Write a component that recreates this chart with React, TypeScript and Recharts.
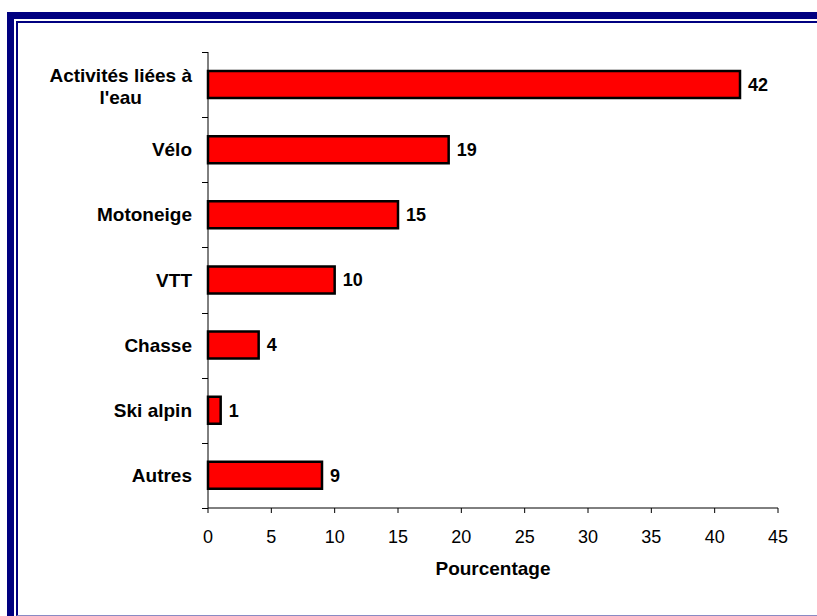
import { BarChart, Bar, XAxis, YAxis, LabelList, Label } from 'recharts'

const categories = ["Activités liées à l'eau", 'Vélo', 'Motoneige', 'VTT', 'Chasse', 'Ski alpin', 'Autres']
const percentages = [42, 19, 15, 10, 4, 1, 9]
const xTicks = [0, 5, 10, 15, 20, 25, 30, 35, 40, 45]

const data = categories.map((activite, i) => ({ activite, pct: percentages[i] }))

const W = 817
const H = 616
const MARGIN = { top: 52, right: 39, bottom: 38, left: 0 }
const Y_AXIS_W = 208
const X_AXIS_H = 70
const BAND = (H - MARGIN.top - MARGIN.bottom - X_AXIS_H) / categories.length
const TICK_SIZE = 6
const TICK_MARGIN = 10
const FONT = "'Liberation Sans', Arial, sans-serif"
const CAT_FONT_SIZE = 19
const LABEL_MAX_W = 150
const NAVY = '#000080'

let ctx: CanvasRenderingContext2D | null = null
function textWidth(s: string) {
  if (!ctx) ctx = document.createElement('canvas').getContext('2d')
  if (!ctx) return s.length * 10
  ctx.font = `bold ${CAT_FONT_SIZE}px ${FONT}`
  return ctx.measureText(s).width
}

// greedy word wrap for long category names
function wrap(label: string) {
  const lines: string[] = []
  let cur = ''
  for (const w of label.split(' ')) {
    const next = cur ? cur + ' ' + w : w
    if (cur && textWidth(next) > LABEL_MAX_W) {
      lines.push(cur)
      cur = w
    } else cur = next
  }
  if (cur) lines.push(cur)
  return lines
}

// category label + tick marks between the bands
function CategoryTick(props: any) {
  const { x, y, payload } = props
  const axisX = x + TICK_SIZE + TICK_MARGIN
  const lines = wrap(String(payload.value))
  const multi = lines.length > 1
  const widest = Math.max(...lines.map(textWidth))
  const tx = multi ? x - widest / 2 : x
  const lh = 22
  const y0 = y - ((lines.length - 1) * lh) / 2 + (multi ? 1.5 : 0)
  const isLast = payload.value === categories[categories.length - 1]
  const top = Math.round(y - BAND / 2) + 0.5
  const bottom = Math.round(y + BAND / 2) + 0.5
  return (
    <g>
      <line x1={axisX - TICK_SIZE} x2={axisX} y1={top} y2={top} stroke="#000" />
      {isLast && <line x1={axisX - TICK_SIZE} x2={axisX} y1={bottom} y2={bottom} stroke="#000" />}
      {lines.map((l, i) => (
        <text
          key={i}
          x={tx}
          y={y0 + i * lh}
          textAnchor={multi ? 'middle' : 'end'}
          dominantBaseline="central"
          fontSize={CAT_FONT_SIZE}
          fontWeight="bold"
          fontFamily={FONT}
          fill="#000"
        >
          {l}
        </text>
      ))}
    </g>
  )
}

export default function App() {
  return (
    <div style={{ position: 'absolute', left: 0, top: 0, width: W, height: H, overflow: 'hidden', background: '#fff', fontFamily: FONT }}>
      <div
        style={{
          position: 'absolute', left: 7, top: 12, width: 840, height: 640,
          borderLeft: `7px solid ${NAVY}`, borderTop: `7px solid ${NAVY}`, boxSizing: 'border-box',
        }}
      />
      <div
        style={{
          position: 'absolute', left: 16, top: 21, width: 830, height: 595,
          borderLeft: `2px solid ${NAVY}`, borderTop: `2px solid ${NAVY}`, borderBottom: '1px solid #8a8ac4',
          boxSizing: 'border-box',
        }}
      />
      <div style={{ position: 'absolute', left: 0, top: 0 }}>
        <BarChart width={W} height={H} data={data} layout="vertical" margin={MARGIN}>
          <XAxis
            type="number"
            domain={[0, 45]}
            ticks={xTicks}
            interval={0}
            height={X_AXIS_H}
            tickSize={5}
            tickMargin={17}
            axisLine={{ stroke: '#000' }}
            tickLine={{ stroke: '#000' }}
            tick={{ fill: '#000', fontSize: 18, fontFamily: FONT }}
          >
            <Label value="Pourcentage" position="insideBottom" offset={3} fill="#000" fontSize={19} fontWeight="bold" fontFamily={FONT} />
          </XAxis>
          <YAxis
            type="category"
            dataKey="activite"
            width={Y_AXIS_W}
            interval={0}
            tickSize={TICK_SIZE}
            tickMargin={TICK_MARGIN}
            tickLine={false}
            axisLine={{ stroke: '#000' }}
            tick={CategoryTick}
          />
          <Bar dataKey="pct" fill="#FF0000" stroke="#000" strokeWidth={2.5} barSize={27} isAnimationActive={false}>
            <LabelList dataKey="pct" position="right" offset={8} fill="#000" fontSize={18} fontWeight="bold" fontFamily={FONT} />
          </Bar>
        </BarChart>
      </div>
    </div>
  )
}
